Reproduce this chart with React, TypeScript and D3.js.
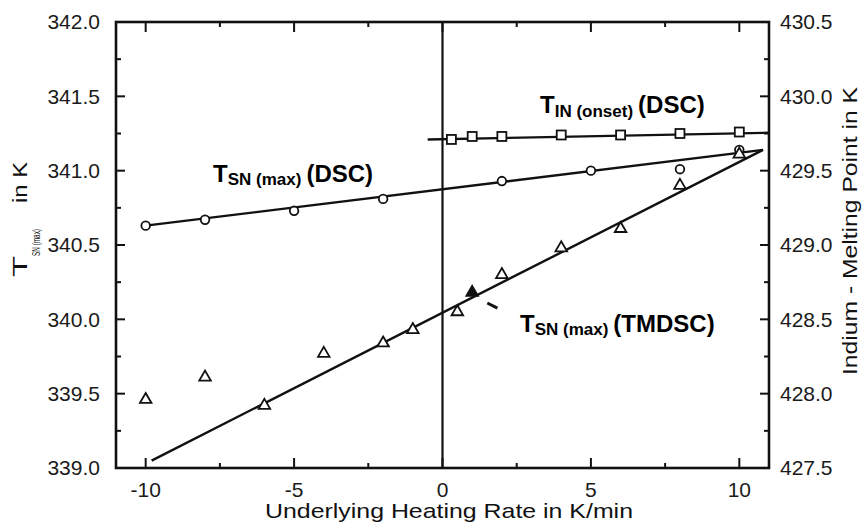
import React from 'react';
import * as d3 from 'd3';

// TMDSC / DSC melting data
const dscRates = [-10, -8, -5, -2, 2, 5, 8, 10];
const dscTsn = [340.63, 340.67, 340.73, 340.81, 340.93, 341.0, 341.01, 341.14];
const dscFitRates = [-10, 10.8];
const dscFitTsn = [340.63, 341.14];

const tmdscRates = [-10, -8, -6, -4, -2, -1, 0.5, 1, 2, 4, 6, 8, 10];
const tmdscTsn = [339.46, 339.61, 339.42, 339.77, 339.84, 339.93, 340.05, 340.18, 340.3, 340.48, 340.61, 340.9, 341.11];
const tmdscFilled = [false, false, false, false, false, false, false, true, false, false, false, false, false];
const tmdscFitRates = [-9.8, 10.8];
const tmdscFitTsn = [339.05, 341.14];

const indiumRates = [0.3, 1, 2, 4, 6, 8, 10];
const indiumOnset = [429.71, 429.73, 429.73, 429.74, 429.74, 429.75, 429.76];
const indiumFitRates = [-0.5, 11];
const indiumFitOnset = [429.71, 429.755];

// little pointer next to the TMDSC label
const pointerRates = [1.51, 1.85];
const pointerTsn = [340.11, 340.075];

const xMajor = [-10, -5, 0, 5, 10];
const xMinor = [-7.5, -2.5, 2.5, 7.5];
const yLeftMajor = [339.0, 339.5, 340.0, 340.5, 341.0, 341.5, 342.0];
const yLeftMinor = [339.25, 339.75, 340.25, 340.75, 341.25, 341.75];
const yRightMajor = [427.5, 428.0, 428.5, 429.0, 429.5, 430.0, 430.5];

const FONT = "Arial, 'Liberation Sans', Helvetica, sans-serif";
const W = 862;
const H = 525;
const margin = { top: 22, right: 93, bottom: 57, left: 116 };

export default function App() {
  const x = d3.scaleLinear().domain([-11, 11]).range([margin.left, W - margin.right]);
  const y = d3.scaleLinear().domain([339, 342]).range([H - margin.bottom, margin.top]);
  const yR = d3.scaleLinear().domain([427.5, 430.5]).range([H - margin.bottom, margin.top]);

  const [x0, x1] = x.range();
  const [yB, yT] = y.range();

  const line = d3.line<[number, number]>().x(d => d[0]).y(d => d[1]);
  const fit = (xs: number[], ys: number[], sy: (v: number) => number) =>
    line(xs.map((v, i) => [x(v), sy(ys[i])]) as [number, number][]) || '';

  const tri = d3.symbol().type(d3.symbolTriangle).size(58)() || '';
  const fmt = d3.format('.1f');

  const labels = [
    { sub: 'SN (max)', tail: '(DSC)', rate: -7.73, val: y(340.926) },
    { sub: 'IN (onset)', tail: '(DSC)', rate: 3.285, val: yR(429.886) },
    { sub: 'SN (max)', tail: '(TMDSC)', rate: 2.61, val: y(339.917) },
  ];

  return (
    <svg width={W} height={H} style={{ position: 'absolute', left: 0, top: 0, background: '#fff' }}
      fontFamily={FONT}>
      <rect x={0} y={0} width={W} height={H} fill="#fff" />

      {/* ticks, all pointing inward */}
      <g stroke="#111" strokeWidth={2}>
        {xMajor.map(t => (
          <g key={'xm' + t}>
            <line x1={x(t)} x2={x(t)} y1={yB} y2={yB - 10} />
            <line x1={x(t)} x2={x(t)} y1={yT} y2={yT + 10} />
          </g>
        ))}
        {xMinor.map(t => (
          <g key={'xn' + t}>
            <line x1={x(t)} x2={x(t)} y1={yB} y2={yB - 5} />
            <line x1={x(t)} x2={x(t)} y1={yT} y2={yT + 5} />
          </g>
        ))}
        {yLeftMajor.map(t => (
          <g key={'ym' + t}>
            <line x1={x0} x2={x0 + 9} y1={y(t)} y2={y(t)} />
            <line x1={x1} x2={x1 - 9} y1={y(t)} y2={y(t)} />
          </g>
        ))}
        {yLeftMinor.map(t => (
          <g key={'yn' + t}>
            <line x1={x0} x2={x0 + 5} y1={y(t)} y2={y(t)} />
            <line x1={x1} x2={x1 - 5} y1={y(t)} y2={y(t)} />
          </g>
        ))}
      </g>

      {/* frame */}
      <rect x={x0} y={yT} width={x1 - x0} height={yB - yT} fill="none" stroke="#111" strokeWidth={2.6} />

      {/* zero rate line */}
      <line x1={x(0)} x2={x(0)} y1={yT} y2={yB} stroke="#111" strokeWidth={2.2} />

      {/* fits */}
      <g fill="none" stroke="#111" strokeWidth={2.4}>
        <path d={fit(dscFitRates, dscFitTsn, y)} />
        <path d={fit(tmdscFitRates, tmdscFitTsn, y)} />
        <path d={fit(indiumFitRates, indiumFitOnset, yR)} />
        <path d={fit(pointerRates, pointerTsn, y)} strokeWidth={3} />
      </g>

      {/* markers */}
      <g stroke="#111" strokeWidth={1.8}>
        {dscRates.map((r, i) => (
          <circle key={'c' + i} cx={x(r)} cy={y(dscTsn[i])} r={4.3} fill="#fff" />
        ))}
        {indiumRates.map((r, i) => (
          <rect key={'s' + i} x={x(r) - 4.5} y={yR(indiumOnset[i]) - 4.5} width={9} height={9} fill="#fff" />
        ))}
        {tmdscRates.map((r, i) => (
          <path key={'t' + i} d={tri} transform={`translate(${x(r)},${y(tmdscTsn[i])})`}
            fill={tmdscFilled[i] ? '#111' : '#fff'} />
        ))}
      </g>

      {/* tick labels */}
      <g fontSize={21} fill="#1a1a1a">
        {yLeftMajor.map(t => (
          <text key={'yl' + t} x={x0 - 16} y={y(t)} dy="0.35em" textAnchor="end">{fmt(t)}</text>
        ))}
        {yRightMajor.map(t => (
          <text key={'yr' + t} x={x1 + 11} y={yR(t)} dy="0.35em" textAnchor="start">{fmt(t)}</text>
        ))}
        {xMajor.map(t => (
          <text key={'xl' + t} x={x(t)} y={497} textAnchor="middle">{t}</text>
        ))}
      </g>

      {/* axis titles */}
      <text x={265} y={518} fontSize={21} textLength={368} lengthAdjust="spacingAndGlyphs" fill="#111">
        Underlying Heating Rate in K/min
      </text>
      <g fill="#111">
        <text transform="translate(27,277) rotate(-90)" fontSize={21} textLength={21} lengthAdjust="spacingAndGlyphs">T</text>
        <text transform="translate(40,256) rotate(-90)" fontSize={10} textLength={27} lengthAdjust="spacingAndGlyphs">SN (max)</text>
        <text transform="translate(27,203) rotate(-90)" fontSize={21} textLength={41} lengthAdjust="spacingAndGlyphs">in K</text>
        <text transform="translate(857,375) rotate(-90)" fontSize={21} textLength={288} lengthAdjust="spacingAndGlyphs">
          Indium - Melting Point in K
        </text>
      </g>

      {/* series annotations */}
      <g fontWeight="bold" fill="#000">
        {labels.map((l, i) => (
          <text key={'a' + i} x={x(l.rate)} y={l.val} fontSize={24}>
            T
            <tspan fontSize={17} dy={3.5}>{l.sub}</tspan>
            <tspan dx={5} dy={-3.5}>{l.tail}</tspan>
          </text>
        ))}
      </g>
    </svg>
  );
}
